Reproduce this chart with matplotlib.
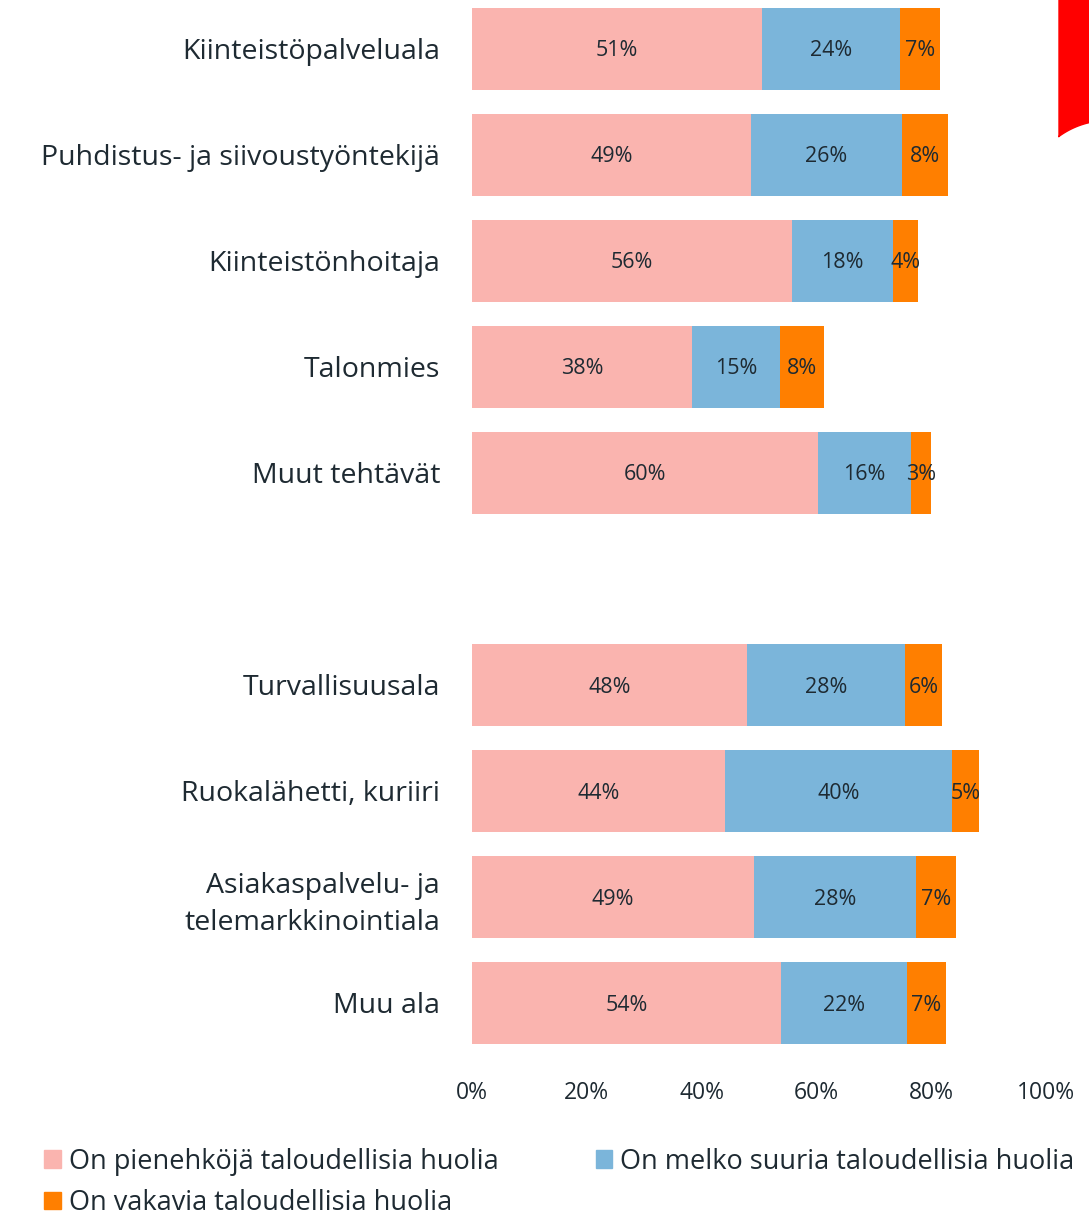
import numpy as np
import matplotlib.pyplot as plt
import matplotlib.patches as mpatches

# %% Data

categories = ["Kiinteistöpalveluala", "Puhdistus- ja siivoustyöntekijä",
              "Kiinteistönhoitaja", "Talonmies", "Muut tehtävät",
              "Turvallisuusala", "Ruokalähetti, kuriiri",
              "Asiakaspalvelu- ja\ntelemarkkinointiala", "Muu ala"]
small_worries = [50.6, 48.6, 55.7, 38.3, 60.3, 47.9, 44.1, 49.1, 53.8]
large_worries = [24.0, 26.3, 17.6, 15.3, 16.2, 27.6, 39.6, 28.2, 21.9]
serious_worries = [7.0, 8.0, 4.4, 7.7, 3.4, 6.3, 4.7, 7.1, 6.8]
series_names = ["On pienehköjä taloudellisia huolia",
                "On melko suuria taloudellisia huolia",
                "On vakavia taloudellisia huolia"]
xticks = [0, 20, 40, 60, 80, 100]

colors = ["#FAB4AF", "#7BB5DA", "#FF7F00"]
txt_col = "#1E2A32"

plt.rcParams['font.family'] = ['Open Sans', 'DejaVu Sans']

# %% Plot

fig = plt.figure(figsize=(10.89, 12.16), dpi=100)
W, H = 1089, 1216
ax = fig.add_axes([472 / W, (H - 1056) / H, 574 / W, 1056 / H])

# empty slot between the two groups
ypos = np.array([i + (1 if i >= 5 else 0) for i in range(len(categories))])

left = np.zeros(len(categories))
for vals, col in zip([small_worries, large_worries, serious_worries], colors):
    vals = np.array(vals)
    bars = ax.barh(ypos, vals, left=left, height=0.77, color=col)
    for b, v in zip(bars, vals):
        ax.text(b.get_x() + b.get_width() / 2, b.get_y() + b.get_height() / 2 + 0.02,
                f"{v:.0f}%", ha='center', va='center', fontsize=15.5, color=txt_col)
    left += vals

ax.set_xlim(0, 100)
ax.set_ylim(9.5, -0.46)
ax.set_yticks(ypos)
ax.set_yticklabels(categories, fontsize=20.5, color=txt_col, linespacing=1.4)
ax.set_xticks(xticks)
ax.set_xticklabels([f"{t}%" for t in xticks], fontsize=16.5, color=txt_col)
ax.tick_params(axis='y', length=0, pad=23)
ax.tick_params(axis='x', length=0, pad=18)
for s in ax.spines.values():
    s.set_visible(False)

# legend
handles = [mpatches.Patch(color=colors[0], label=series_names[0]),
           mpatches.Patch(color=colors[2], label=series_names[2]),
           mpatches.Patch(color=colors[1], label=series_names[1])]
leg = fig.legend(handles=handles, ncol=2, loc='lower left',
                 bbox_to_anchor=(20 / W, -0.021), frameon=False,
                 fontsize=19.5, handlelength=0.6, handleheight=0.6,
                 handletextpad=0.3, columnspacing=3.6, labelspacing=0.5)
for t in leg.get_texts():
    t.set_color(txt_col)

# red corner decoration
theta = np.linspace(np.arctan2(122 - 204, 1089 - 1108), np.arctan2(137 - 204, 1059 - 1108), 30)
arc_x = 1108 + 83.5 * np.cos(theta)
arc_y = 204 + 83.5 * np.sin(theta)
px = np.concatenate([[1059, 1089, 1089], arc_x, [1059]])
py = np.concatenate([[0, 0, 122], arc_y, [137]])
fig.patches.append(mpatches.Polygon(np.column_stack([px / W, 1 - py / H]), closed=True,
                                    color='#FF0000', transform=fig.transFigure, figure=fig))

plt.savefig("out.png", dpi=100)
